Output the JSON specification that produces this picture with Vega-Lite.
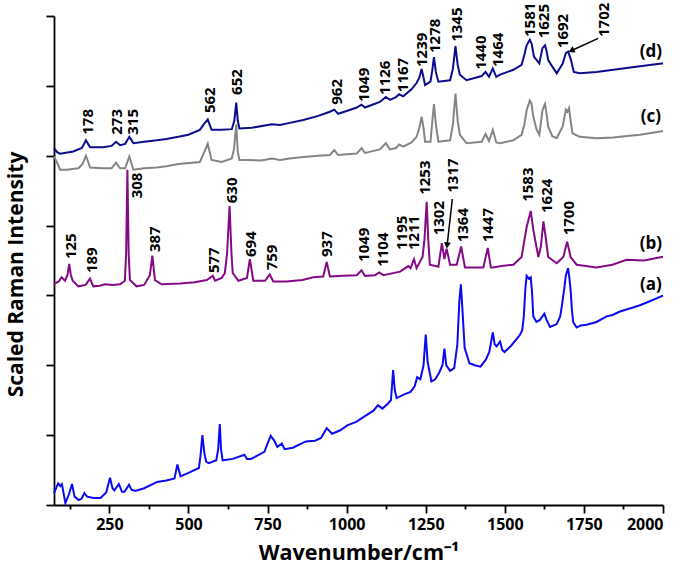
{
  "$schema": "https://vega.github.io/schema/vega-lite/v6.json",
  "autosize": "none",
  "width": 609,
  "height": 489,
  "padding": {"left": 54, "top": 16, "right": 22, "bottom": 70},
  "config": {
    "view": {"stroke": null},
    "font": "Open Sans",
    "axis": {"grid": false, "domainColor": "black", "tickColor": "black", "labelColor": "black", "titleColor": "black", "domainWidth": 1.8, "tickWidth": 1.8}
  },
  "datasets": {
    "spec": [
      {"s":"a","wn":75,"v":0.17},{"s":"a","wn":88,"v":0.31},{"s":"a","wn":95,"v":0.27},{"s":"a","wn":100,"v":0.30},{"s":"a","wn":111,"v":0.03},{"s":"a","wn":122,"v":0.15},{"s":"a","wn":132,"v":0.30},{"s":"a","wn":140,"v":0.12},{"s":"a","wn":153,"v":0.07},{"s":"a","wn":162,"v":0.09},{"s":"a","wn":171,"v":0.17},{"s":"a","wn":180,"v":0.12},{"s":"a","wn":200,"v":0.10},{"s":"a","wn":222,"v":0.10},{"s":"a","wn":240,"v":0.18},{"s":"a","wn":252,"v":0.39},{"s":"a","wn":260,"v":0.24},{"s":"a","wn":266,"v":0.21},{"s":"a","wn":280,"v":0.30},{"s":"a","wn":290,"v":0.19},{"s":"a","wn":298,"v":0.19},{"s":"a","wn":312,"v":0.29},{"s":"a","wn":320,"v":0.22},{"s":"a","wn":332,"v":0.20},{"s":"a","wn":360,"v":0.24},{"s":"a","wn":401,"v":0.33},{"s":"a","wn":430,"v":0.35},{"s":"a","wn":456,"v":0.38},{"s":"a","wn":465,"v":0.58},{"s":"a","wn":475,"v":0.41},{"s":"a","wn":500,"v":0.46},{"s":"a","wn":533,"v":0.53},{"s":"a","wn":538,"v":0.70},{"s":"a","wn":544,"v":1.00},{"s":"a","wn":550,"v":0.75},{"s":"a","wn":556,"v":0.62},{"s":"a","wn":564,"v":0.60},{"s":"a","wn":588,"v":0.64},{"s":"a","wn":594,"v":0.80},{"s":"a","wn":599,"v":1.16},{"s":"a","wn":603,"v":0.80},{"s":"a","wn":608,"v":0.64},{"s":"a","wn":640,"v":0.66},{"s":"a","wn":677,"v":0.72},{"s":"a","wn":685,"v":0.66},{"s":"a","wn":698,"v":0.66},{"s":"a","wn":740,"v":0.76},{"s":"a","wn":750,"v":0.88},{"s":"a","wn":760,"v":0.99},{"s":"a","wn":770,"v":0.93},{"s":"a","wn":781,"v":0.83},{"s":"a","wn":795,"v":0.88},{"s":"a","wn":804,"v":0.80},{"s":"a","wn":830,"v":0.82},{"s":"a","wn":871,"v":0.91},{"s":"a","wn":900,"v":0.92},{"s":"a","wn":919,"v":0.96},{"s":"a","wn":937,"v":1.10},{"s":"a","wn":954,"v":1.02},{"s":"a","wn":980,"v":1.07},{"s":"a","wn":1002,"v":1.14},{"s":"a","wn":1030,"v":1.19},{"s":"a","wn":1064,"v":1.29},{"s":"a","wn":1085,"v":1.35},{"s":"a","wn":1099,"v":1.43},{"s":"a","wn":1113,"v":1.38},{"s":"a","wn":1130,"v":1.45},{"s":"a","wn":1140,"v":1.50},{"s":"a","wn":1147,"v":1.93},{"s":"a","wn":1152,"v":1.65},{"s":"a","wn":1158,"v":1.53},{"s":"a","wn":1180,"v":1.58},{"s":"a","wn":1202,"v":1.62},{"s":"a","wn":1215,"v":1.70},{"s":"a","wn":1223,"v":1.83},{"s":"a","wn":1233,"v":1.80},{"s":"a","wn":1243,"v":2.00},{"s":"a","wn":1250,"v":2.44},{"s":"a","wn":1256,"v":2.05},{"s":"a","wn":1268,"v":1.77},{"s":"a","wn":1280,"v":1.80},{"s":"a","wn":1292,"v":1.89},{"s":"a","wn":1303,"v":2.00},{"s":"a","wn":1309,"v":2.24},{"s":"a","wn":1315,"v":2.00},{"s":"a","wn":1327,"v":1.92},{"s":"a","wn":1340,"v":1.96},{"s":"a","wn":1350,"v":2.30},{"s":"a","wn":1356,"v":2.90},{"s":"a","wn":1361,"v":3.16},{"s":"a","wn":1366,"v":2.80},{"s":"a","wn":1373,"v":2.25},{"s":"a","wn":1388,"v":2.03},{"s":"a","wn":1405,"v":2.00},{"s":"a","wn":1423,"v":1.98},{"s":"a","wn":1440,"v":2.08},{"s":"a","wn":1451,"v":2.19},{"s":"a","wn":1462,"v":2.47},{"s":"a","wn":1468,"v":2.30},{"s":"a","wn":1474,"v":2.27},{"s":"a","wn":1485,"v":2.34},{"s":"a","wn":1492,"v":2.22},{"s":"a","wn":1499,"v":2.19},{"s":"a","wn":1520,"v":2.28},{"s":"a","wn":1547,"v":2.43},{"s":"a","wn":1555,"v":2.50},{"s":"a","wn":1560,"v":2.70},{"s":"a","wn":1565,"v":3.10},{"s":"a","wn":1569,"v":3.28},{"s":"a","wn":1576,"v":3.24},{"s":"a","wn":1582,"v":3.26},{"s":"a","wn":1586,"v":3.05},{"s":"a","wn":1590,"v":2.70},{"s":"a","wn":1600,"v":2.62},{"s":"a","wn":1611,"v":2.65},{"s":"a","wn":1625,"v":2.74},{"s":"a","wn":1632,"v":2.65},{"s":"a","wn":1643,"v":2.55},{"s":"a","wn":1664,"v":2.59},{"s":"a","wn":1675,"v":2.70},{"s":"a","wn":1680,"v":2.84},{"s":"a","wn":1688,"v":3.10},{"s":"a","wn":1693,"v":3.29},{"s":"a","wn":1700,"v":3.39},{"s":"a","wn":1704,"v":3.25},{"s":"a","wn":1708,"v":3.08},{"s":"a","wn":1712,"v":2.80},{"s":"a","wn":1716,"v":2.62},{"s":"a","wn":1727,"v":2.54},{"s":"a","wn":1740,"v":2.57},{"s":"a","wn":1758,"v":2.58},{"s":"a","wn":1790,"v":2.62},{"s":"a","wn":1822,"v":2.70},{"s":"a","wn":1840,"v":2.72},{"s":"a","wn":1864,"v":2.77},{"s":"a","wn":1900,"v":2.82},{"s":"a","wn":1927,"v":2.86},{"s":"a","wn":1960,"v":2.92},{"s":"a","wn":1996,"v":2.99},{"s":"a","wn":2000,"v":3.00},
      {"s":"b","wn":75,"v":3.16},{"s":"b","wn":90,"v":3.20},{"s":"b","wn":99,"v":3.26},{"s":"b","wn":110,"v":3.21},{"s":"b","wn":118,"v":3.30},{"s":"b","wn":123,"v":3.45},{"s":"b","wn":128,"v":3.30},{"s":"b","wn":134,"v":3.21},{"s":"b","wn":152,"v":3.13},{"s":"b","wn":175,"v":3.15},{"s":"b","wn":189,"v":3.24},{"s":"b","wn":199,"v":3.13},{"s":"b","wn":220,"v":3.14},{"s":"b","wn":236,"v":3.16},{"s":"b","wn":260,"v":3.15},{"s":"b","wn":284,"v":3.16},{"s":"b","wn":299,"v":3.21},{"s":"b","wn":303,"v":3.60},{"s":"b","wn":307,"v":4.80},{"s":"b","wn":311,"v":3.60},{"s":"b","wn":315,"v":3.22},{"s":"b","wn":336,"v":3.13},{"s":"b","wn":360,"v":3.15},{"s":"b","wn":378,"v":3.29},{"s":"b","wn":386,"v":3.57},{"s":"b","wn":394,"v":3.22},{"s":"b","wn":415,"v":3.16},{"s":"b","wn":473,"v":3.17},{"s":"b","wn":520,"v":3.19},{"s":"b","wn":558,"v":3.22},{"s":"b","wn":577,"v":3.28},{"s":"b","wn":584,"v":3.21},{"s":"b","wn":605,"v":3.25},{"s":"b","wn":615,"v":3.32},{"s":"b","wn":622,"v":3.60},{"s":"b","wn":630,"v":4.28},{"s":"b","wn":636,"v":3.60},{"s":"b","wn":640,"v":3.32},{"s":"b","wn":658,"v":3.21},{"s":"b","wn":685,"v":3.25},{"s":"b","wn":694,"v":3.52},{"s":"b","wn":705,"v":3.21},{"s":"b","wn":742,"v":3.21},{"s":"b","wn":757,"v":3.30},{"s":"b","wn":768,"v":3.20},{"s":"b","wn":810,"v":3.20},{"s":"b","wn":860,"v":3.22},{"s":"b","wn":895,"v":3.26},{"s":"b","wn":926,"v":3.27},{"s":"b","wn":937,"v":3.48},{"s":"b","wn":947,"v":3.27},{"s":"b","wn":990,"v":3.28},{"s":"b","wn":1032,"v":3.29},{"s":"b","wn":1047,"v":3.36},{"s":"b","wn":1058,"v":3.28},{"s":"b","wn":1090,"v":3.29},{"s":"b","wn":1103,"v":3.33},{"s":"b","wn":1116,"v":3.29},{"s":"b","wn":1169,"v":3.34},{"s":"b","wn":1195,"v":3.42},{"s":"b","wn":1202,"v":3.39},{"s":"b","wn":1213,"v":3.52},{"s":"b","wn":1221,"v":3.39},{"s":"b","wn":1240,"v":3.55},{"s":"b","wn":1246,"v":3.80},{"s":"b","wn":1253,"v":4.34},{"s":"b","wn":1258,"v":3.80},{"s":"b","wn":1263,"v":3.44},{"s":"b","wn":1290,"v":3.41},{"s":"b","wn":1301,"v":3.75},{"s":"b","wn":1309,"v":3.52},{"s":"b","wn":1316,"v":3.67},{"s":"b","wn":1327,"v":3.44},{"s":"b","wn":1348,"v":3.44},{"s":"b","wn":1362,"v":3.70},{"s":"b","wn":1374,"v":3.40},{"s":"b","wn":1432,"v":3.40},{"s":"b","wn":1446,"v":3.68},{"s":"b","wn":1456,"v":3.40},{"s":"b","wn":1463,"v":3.40},{"s":"b","wn":1490,"v":3.42},{"s":"b","wn":1527,"v":3.44},{"s":"b","wn":1553,"v":3.55},{"s":"b","wn":1569,"v":3.98},{"s":"b","wn":1582,"v":4.21},{"s":"b","wn":1590,"v":3.94},{"s":"b","wn":1606,"v":3.55},{"s":"b","wn":1614,"v":3.70},{"s":"b","wn":1622,"v":4.06},{"s":"b","wn":1629,"v":3.84},{"s":"b","wn":1637,"v":3.55},{"s":"b","wn":1664,"v":3.46},{"s":"b","wn":1685,"v":3.55},{"s":"b","wn":1697,"v":3.77},{"s":"b","wn":1708,"v":3.55},{"s":"b","wn":1727,"v":3.44},{"s":"b","wn":1790,"v":3.40},{"s":"b","wn":1840,"v":3.44},{"s":"b","wn":1885,"v":3.51},{"s":"b","wn":1940,"v":3.50},{"s":"b","wn":1996,"v":3.55},{"s":"b","wn":2000,"v":3.55},
      {"s":"c","wn":75,"v":4.99},{"s":"c","wn":85,"v":4.90},{"s":"c","wn":94,"v":4.80},{"s":"c","wn":115,"v":4.80},{"s":"c","wn":152,"v":4.82},{"s":"c","wn":165,"v":4.88},{"s":"c","wn":176,"v":5.00},{"s":"c","wn":189,"v":4.83},{"s":"c","wn":230,"v":4.82},{"s":"c","wn":257,"v":4.82},{"s":"c","wn":271,"v":4.90},{"s":"c","wn":284,"v":4.82},{"s":"c","wn":300,"v":4.82},{"s":"c","wn":313,"v":4.99},{"s":"c","wn":326,"v":4.80},{"s":"c","wn":360,"v":4.82},{"s":"c","wn":400,"v":4.83},{"s":"c","wn":430,"v":4.85},{"s":"c","wn":468,"v":4.88},{"s":"c","wn":536,"v":4.91},{"s":"c","wn":550,"v":5.05},{"s":"c","wn":561,"v":5.17},{"s":"c","wn":573,"v":4.94},{"s":"c","wn":605,"v":4.91},{"s":"c","wn":637,"v":4.96},{"s":"c","wn":644,"v":5.10},{"s":"c","wn":651,"v":5.45},{"s":"c","wn":656,"v":5.05},{"s":"c","wn":661,"v":4.94},{"s":"c","wn":684,"v":4.94},{"s":"c","wn":730,"v":4.93},{"s":"c","wn":764,"v":4.96},{"s":"c","wn":789,"v":4.94},{"s":"c","wn":820,"v":4.96},{"s":"c","wn":863,"v":4.98},{"s":"c","wn":910,"v":5.00},{"s":"c","wn":947,"v":5.01},{"s":"c","wn":961,"v":5.08},{"s":"c","wn":973,"v":5.01},{"s":"c","wn":1032,"v":5.03},{"s":"c","wn":1047,"v":5.11},{"s":"c","wn":1058,"v":5.04},{"s":"c","wn":1105,"v":5.09},{"s":"c","wn":1124,"v":5.18},{"s":"c","wn":1137,"v":5.09},{"s":"c","wn":1156,"v":5.11},{"s":"c","wn":1166,"v":5.16},{"s":"c","wn":1179,"v":5.13},{"s":"c","wn":1205,"v":5.19},{"s":"c","wn":1221,"v":5.27},{"s":"c","wn":1230,"v":5.40},{"s":"c","wn":1237,"v":5.56},{"s":"c","wn":1243,"v":5.40},{"s":"c","wn":1248,"v":5.20},{"s":"c","wn":1265,"v":5.20},{"s":"c","wn":1270,"v":5.45},{"s":"c","wn":1276,"v":5.74},{"s":"c","wn":1282,"v":5.45},{"s":"c","wn":1290,"v":5.20},{"s":"c","wn":1327,"v":5.22},{"s":"c","wn":1336,"v":5.45},{"s":"c","wn":1344,"v":5.89},{"s":"c","wn":1351,"v":5.50},{"s":"c","wn":1358,"v":5.30},{"s":"c","wn":1379,"v":5.18},{"s":"c","wn":1427,"v":5.20},{"s":"c","wn":1439,"v":5.31},{"s":"c","wn":1450,"v":5.21},{"s":"c","wn":1462,"v":5.37},{"s":"c","wn":1473,"v":5.19},{"s":"c","wn":1485,"v":5.18},{"s":"c","wn":1527,"v":5.22},{"s":"c","wn":1553,"v":5.30},{"s":"c","wn":1562,"v":5.45},{"s":"c","wn":1569,"v":5.65},{"s":"c","wn":1579,"v":5.79},{"s":"c","wn":1584,"v":5.75},{"s":"c","wn":1590,"v":5.56},{"s":"c","wn":1600,"v":5.38},{"s":"c","wn":1609,"v":5.30},{"s":"c","wn":1619,"v":5.65},{"s":"c","wn":1627,"v":5.74},{"s":"c","wn":1632,"v":5.60},{"s":"c","wn":1637,"v":5.42},{"s":"c","wn":1650,"v":5.28},{"s":"c","wn":1664,"v":5.25},{"s":"c","wn":1683,"v":5.42},{"s":"c","wn":1693,"v":5.66},{"s":"c","wn":1698,"v":5.63},{"s":"c","wn":1703,"v":5.68},{"s":"c","wn":1708,"v":5.50},{"s":"c","wn":1714,"v":5.32},{"s":"c","wn":1737,"v":5.27},{"s":"c","wn":1790,"v":5.25},{"s":"c","wn":1843,"v":5.26},{"s":"c","wn":1880,"v":5.28},{"s":"c","wn":1927,"v":5.30},{"s":"c","wn":1996,"v":5.35},{"s":"c","wn":2000,"v":5.35},
      {"s":"d","wn":75,"v":5.11},{"s":"d","wn":85,"v":5.05},{"s":"d","wn":94,"v":5.03},{"s":"d","wn":136,"v":5.06},{"s":"d","wn":163,"v":5.11},{"s":"d","wn":176,"v":5.22},{"s":"d","wn":189,"v":5.12},{"s":"d","wn":230,"v":5.12},{"s":"d","wn":257,"v":5.14},{"s":"d","wn":271,"v":5.20},{"s":"d","wn":284,"v":5.15},{"s":"d","wn":300,"v":5.17},{"s":"d","wn":313,"v":5.27},{"s":"d","wn":326,"v":5.18},{"s":"d","wn":360,"v":5.20},{"s":"d","wn":400,"v":5.22},{"s":"d","wn":430,"v":5.24},{"s":"d","wn":468,"v":5.27},{"s":"d","wn":500,"v":5.30},{"s":"d","wn":536,"v":5.37},{"s":"d","wn":550,"v":5.46},{"s":"d","wn":561,"v":5.52},{"s":"d","wn":573,"v":5.37},{"s":"d","wn":605,"v":5.37},{"s":"d","wn":637,"v":5.38},{"s":"d","wn":645,"v":5.50},{"s":"d","wn":651,"v":5.76},{"s":"d","wn":656,"v":5.50},{"s":"d","wn":661,"v":5.39},{"s":"d","wn":700,"v":5.40},{"s":"d","wn":764,"v":5.45},{"s":"d","wn":789,"v":5.44},{"s":"d","wn":820,"v":5.47},{"s":"d","wn":863,"v":5.51},{"s":"d","wn":910,"v":5.57},{"s":"d","wn":947,"v":5.63},{"s":"d","wn":961,"v":5.66},{"s":"d","wn":973,"v":5.60},{"s":"d","wn":1000,"v":5.64},{"s":"d","wn":1032,"v":5.69},{"s":"d","wn":1047,"v":5.73},{"s":"d","wn":1058,"v":5.69},{"s":"d","wn":1105,"v":5.77},{"s":"d","wn":1124,"v":5.84},{"s":"d","wn":1137,"v":5.80},{"s":"d","wn":1156,"v":5.84},{"s":"d","wn":1166,"v":5.88},{"s":"d","wn":1179,"v":5.85},{"s":"d","wn":1205,"v":5.95},{"s":"d","wn":1221,"v":6.04},{"s":"d","wn":1230,"v":6.12},{"s":"d","wn":1237,"v":6.24},{"s":"d","wn":1243,"v":6.12},{"s":"d","wn":1248,"v":6.01},{"s":"d","wn":1265,"v":6.06},{"s":"d","wn":1270,"v":6.20},{"s":"d","wn":1276,"v":6.41},{"s":"d","wn":1282,"v":6.20},{"s":"d","wn":1290,"v":6.06},{"s":"d","wn":1327,"v":6.08},{"s":"d","wn":1336,"v":6.25},{"s":"d","wn":1344,"v":6.57},{"s":"d","wn":1351,"v":6.30},{"s":"d","wn":1358,"v":6.16},{"s":"d","wn":1379,"v":6.08},{"s":"d","wn":1427,"v":6.14},{"s":"d","wn":1439,"v":6.20},{"s":"d","wn":1450,"v":6.13},{"s":"d","wn":1462,"v":6.25},{"s":"d","wn":1473,"v":6.13},{"s":"d","wn":1485,"v":6.16},{"s":"d","wn":1527,"v":6.23},{"s":"d","wn":1553,"v":6.30},{"s":"d","wn":1562,"v":6.45},{"s":"d","wn":1569,"v":6.58},{"s":"d","wn":1579,"v":6.66},{"s":"d","wn":1585,"v":6.60},{"s":"d","wn":1592,"v":6.42},{"s":"d","wn":1609,"v":6.32},{"s":"d","wn":1619,"v":6.54},{"s":"d","wn":1627,"v":6.58},{"s":"d","wn":1632,"v":6.50},{"s":"d","wn":1637,"v":6.37},{"s":"d","wn":1664,"v":6.18},{"s":"d","wn":1683,"v":6.32},{"s":"d","wn":1693,"v":6.47},{"s":"d","wn":1700,"v":6.49},{"s":"d","wn":1708,"v":6.39},{"s":"d","wn":1718,"v":6.20},{"s":"d","wn":1737,"v":6.18},{"s":"d","wn":1790,"v":6.20},{"s":"d","wn":1843,"v":6.23},{"s":"d","wn":1927,"v":6.28},{"s":"d","wn":1996,"v":6.32},{"s":"d","wn":2000,"v":6.32}
    ],
    "labs": [
      {"t":"178","x":181,"y":5.30},{"t":"273","x":273,"y":5.30},{"t":"315","x":324,"y":5.30},{"t":"562","x":568,"y":5.61},{"t":"652","x":655,"y":5.87},{"t":"962","x":968,"y":5.73},{"t":"1049","x":1055,"y":5.77},{"t":"1126","x":1121,"y":5.87},{"t":"1167","x":1177,"y":5.91},{"t":"1239","x":1237,"y":6.27},{"t":"1278","x":1279,"y":6.47},{"t":"1345","x":1350,"y":6.63},{"t":"1440","x":1424,"y":6.23},{"t":"1464","x":1479,"y":6.27},{"t":"1581","x":1579,"y":6.70},{"t":"1625","x":1623,"y":6.68},{"t":"1692","x":1684,"y":6.54},{"t":"1702","x":1812,"y":6.70},
      {"t":"125","x":128,"y":3.52},{"t":"189","x":194,"y":3.32},{"t":"308","x":336,"y":4.39},{"t":"387","x":394,"y":3.62},{"t":"577","x":581,"y":3.32},{"t":"630","x":637,"y":4.32},{"t":"694","x":697,"y":3.55},{"t":"759","x":763,"y":3.36},{"t":"937","x":937,"y":3.55},{"t":"1049","x":1055,"y":3.48},{"t":"1104","x":1114,"y":3.41},{"t":"1195","x":1174,"y":3.65},{"t":"1211","x":1213,"y":3.65},{"t":"1253","x":1249,"y":4.44},{"t":"1302","x":1292,"y":3.86},{"t":"1317","x":1337,"y":4.47},{"t":"1364","x":1369,"y":3.76},{"t":"1447","x":1448,"y":3.76},{"t":"1583","x":1574,"y":4.34},{"t":"1624","x":1632,"y":4.18},{"t":"1700","x":1704,"y":3.86}
    ],
    "series": [
      {"t":"(d)","x":1962,"y":6.49},{"t":"(c)","x":1962,"y":5.55},{"t":"(b)","x":1962,"y":3.74},{"t":"(a)","x":1962,"y":3.15}
    ],
    "arrows": [
      {"x":1795,"y":6.68,"x2":1713,"y2":6.51},
      {"x":1334,"y":4.38,"x2":1318,"y2":3.73}
    ]
  },
  "layer": [
    {
      "data": {"name": "spec"},
      "mark": {"type": "line", "strokeWidth": 2},
      "encoding": {
        "x": {
          "field": "wn", "type": "quantitative",
          "scale": {"domain": [75, 2000], "nice": false, "zero": false},
          "axis": {
            "values": [125,250,375,500,625,750,875,1000,1125,1250,1375,1500,1625,1750,1875,2000],
            "format": "d",
            "labelExpr": "datum.value % 250 === 0 ? datum.label : ''",
            "tickSize": {"condition": {"test": "datum.value % 250 === 0", "value": 8}, "value": 4},
            "labelFontSize": 16, "labelFontWeight": "bold", "labelFont": "Open Sans", "labelPadding": 3,
            "title": "Wavenumber/cm⁻¹", "titleFontSize": 21.5, "titleFontWeight": "bold", "titleFont": "Open Sans", "titlePadding": 10
          }
        },
        "y": {
          "field": "v", "type": "quantitative",
          "scale": {"domain": [0, 7], "nice": false, "zero": false},
          "axis": {
            "values": [0,0.5,1,1.5,2,2.5,3,3.5,4,4.5,5,5.5,6,6.5,7],
            "labels": false,
            "tickSize": {"condition": {"test": "datum.value % 1 === 0", "value": 8}, "value": 4},
            "title": "Scaled Raman Intensity", "titleFontSize": 21, "titleFontWeight": "bold", "titleFont": "Open Sans", "titlePadding": 19, "titleY": 258
          }
        },
        "color": {
          "field": "s", "type": "nominal",
          "scale": {"domain": ["a","b","c","d"], "range": ["#0a0af5", "#850a85", "#858585", "#0c0c8c"]},
          "legend": null
        }
      }
    },
    {
      "data": {"name": "labs"},
      "mark": {"type": "text", "angle": 270, "align": "left", "baseline": "middle", "font": "Open Sans", "fontSize": 15, "fontWeight": "bold", "color": "black"},
      "encoding": {
        "x": {"field": "x", "type": "quantitative"},
        "y": {"field": "y", "type": "quantitative"},
        "text": {"field": "t"}
      }
    },
    {
      "data": {"name": "series"},
      "mark": {"type": "text", "align": "center", "baseline": "middle", "font": "Open Sans", "fontSize": 17, "fontWeight": "bold", "color": "black"},
      "encoding": {
        "x": {"field": "x", "type": "quantitative"},
        "y": {"field": "y", "type": "quantitative"},
        "text": {"field": "t"}
      }
    },
    {
      "data": {"name": "arrows"},
      "mark": {"type": "rule", "color": "black", "strokeWidth": 1.5},
      "encoding": {
        "x": {"field": "x", "type": "quantitative"},
        "y": {"field": "y", "type": "quantitative"},
        "x2": {"field": "x2"},
        "y2": {"field": "y2"}
      }
    },
    {
      "data": {"values": [{"x":1713,"y":6.51}]},
      "mark": {"type": "point", "shape": "triangle", "filled": true, "color": "black", "size": 50, "angle": 245, "opacity": 1},
      "encoding": {
        "x": {"field": "x", "type": "quantitative"},
        "y": {"field": "y", "type": "quantitative"}
      }
    },
    {
      "data": {"values": [{"x":1318,"y":3.73}]},
      "mark": {"type": "point", "shape": "triangle", "filled": true, "color": "black", "size": 50, "angle": 187, "opacity": 1},
      "encoding": {
        "x": {"field": "x", "type": "quantitative"},
        "y": {"field": "y", "type": "quantitative"}
      }
    }
  ]
}
